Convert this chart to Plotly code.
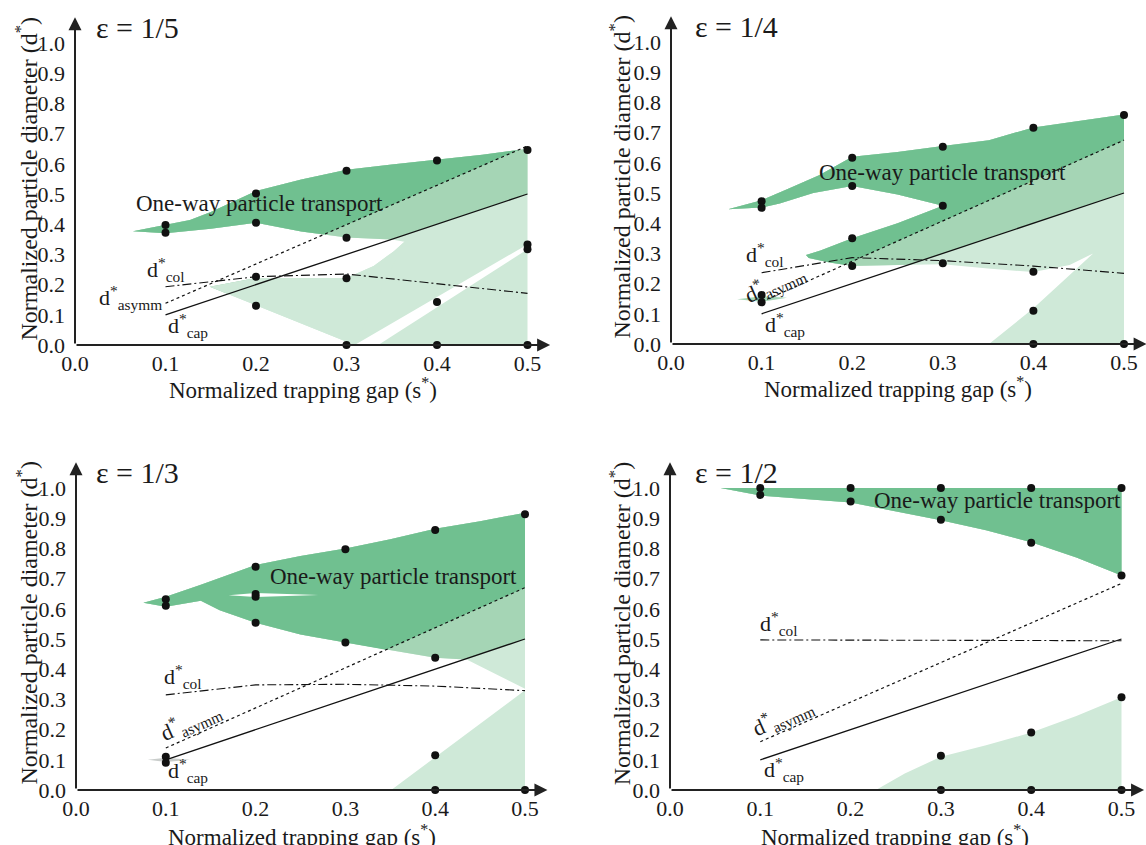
import plotly.graph_objects as go

W, H = 1146, 845
FONT = "Liberation Serif, Times New Roman, serif"
DARK, MED, LIGHT = "#70c090", "#a5d5b5", "#cfe9d8"

# ---------------- data ----------------
S_TICKS = [0.0, 0.1, 0.2, 0.3, 0.4, 0.5]
S_TICKTEXT = ["0.0", "0.1", "0.2", "0.3", "0.4", "0.5"]
D_TICKS = [0.0, 0.1, 0.2, 0.3, 0.4, 0.5, 0.6, 0.7, 0.8, 0.9, 1.0]
D_TICKTEXT = ["0.0", "0.1", "0.2", "0.3", "0.4", "0.5", "0.6", "0.7", "0.8", "0.9", "1.0"]

EPS_LABELS = ["ε = 1/5", "ε = 1/4", "ε = 1/3", "ε = 1/2"]

S_LINE = [0.1, 0.2, 0.3, 0.4, 0.5]
D_CAP = [0.1, 0.2, 0.3, 0.4, 0.5]
S_ASYMM = [0.1, 0.5]
D_ASYMM = [[0.138, 0.659], [0.140, 0.675], [0.139, 0.670], [0.160, 0.684]]
D_COL = [[0.193, 0.226, 0.235, 0.203, 0.171],
         [0.236, 0.286, 0.276, 0.258, 0.234],
         [0.315, 0.348, 0.350, 0.344, 0.329],
         [0.497, 0.497, 0.496, 0.495, 0.494]]

DOT_S = [
    [0.1, 0.1, 0.2, 0.2, 0.2, 0.2, 0.3, 0.3, 0.3, 0.3, 0.4, 0.4, 0.4, 0.5, 0.5, 0.5, 0.5],
    [0.1, 0.1, 0.1, 0.1, 0.2, 0.2, 0.2, 0.2, 0.3, 0.3, 0.3, 0.4, 0.4, 0.4, 0.4, 0.5, 0.5],
    [0.1, 0.1, 0.1, 0.1, 0.2, 0.2, 0.2, 0.2, 0.3, 0.3, 0.4, 0.4, 0.4, 0.4, 0.5, 0.5],
    [0.1, 0.1, 0.2, 0.2, 0.3, 0.3, 0.3, 0.3, 0.4, 0.4, 0.4, 0.4, 0.5, 0.5, 0.5, 0.5],
]
DOT_D = [
    [0.397, 0.372, 0.502, 0.405, 0.226, 0.130, 0.577, 0.355, 0.221, 0.0, 0.611, 0.142, 0.0, 0.646, 0.333, 0.317, 0.0],
    [0.473, 0.451, 0.162, 0.138, 0.617, 0.523, 0.350, 0.258, 0.653, 0.458, 0.267, 0.716, 0.239, 0.110, 0.0, 0.758, 0.0],
    [0.632, 0.610, 0.110, 0.090, 0.739, 0.649, 0.640, 0.554, 0.797, 0.488, 0.861, 0.438, 0.115, 0.0, 0.913, 0.0],
    [1.0, 0.977, 1.0, 0.955, 1.0, 0.895, 0.113, 0.0, 1.0, 0.819, 0.190, 0.0, 1.0, 0.710, 0.307, 0.0],
]

# green regions (outline points), coloured by band: above d*asymm dark, above d*cap medium, else light
REGION_S = [
    [[0.064, 0.1, 0.127, 0.15, 0.2, 0.25, 0.3, 0.35, 0.4, 0.45, 0.5, 0.5, 0.309, 0.149, 0.2, 0.3, 0.33, 0.352, 0.364, 0.35, 0.3, 0.25, 0.2, 0.15, 0.1],
     [0.335, 0.5, 0.5]],
    [[0.063, 0.1, 0.13, 0.164, 0.2, 0.25, 0.3, 0.351, 0.4, 0.45, 0.5, 0.5, 0.351, 0.4, 0.466, 0.44, 0.414, 0.4, 0.35, 0.3, 0.25, 0.2, 0.175, 0.152, 0.149, 0.165, 0.2, 0.25, 0.3, 0.25, 0.2, 0.157, 0.12, 0.1]],
    [[0.075, 0.1, 0.139, 0.2, 0.25, 0.3, 0.35, 0.4, 0.45, 0.5, 0.5, 0.47, 0.45, 0.435, 0.4, 0.35, 0.3, 0.25, 0.2, 0.16, 0.139, 0.1],
     [0.351, 0.4, 0.5, 0.5]],
    [[0.056, 0.5, 0.5, 0.45, 0.4, 0.35, 0.3, 0.2, 0.1],
     [0.228, 0.26, 0.3, 0.35, 0.4, 0.45, 0.5, 0.5]],
]
REGION_D = [
    [[0.377, 0.397, 0.414, 0.44, 0.51, 0.548, 0.58, 0.598, 0.614, 0.63, 0.65, 0.333, 0.0, 0.193, 0.222, 0.222, 0.262, 0.31, 0.342, 0.349, 0.356, 0.376, 0.405, 0.385, 0.37],
     [0.0, 0.0, 0.317]],
    [[0.446, 0.476, 0.515, 0.56, 0.62, 0.636, 0.656, 0.675, 0.717, 0.738, 0.76, 0.0, 0.0, 0.118, 0.30, 0.262, 0.245, 0.238, 0.25, 0.264, 0.262, 0.258, 0.27, 0.285, 0.295, 0.31, 0.35, 0.40, 0.458, 0.495, 0.523, 0.50, 0.465, 0.452]],
    [[0.62, 0.64, 0.68, 0.745, 0.775, 0.80, 0.83, 0.865, 0.89, 0.918, 0.335, 0.38, 0.41, 0.432, 0.438, 0.462, 0.488, 0.515, 0.554, 0.595, 0.627, 0.607],
     [0.0, 0.108, 0.33, 0.0]],
    [[1.0, 1.0, 0.71, 0.77, 0.82, 0.86, 0.893, 0.952, 0.975],
     [0.0, 0.055, 0.11, 0.148, 0.19, 0.245, 0.307, 0.0]],
]
# fixed-colour patches drawn over the banded regions
PATCH_S = [
    [[0.149, 0.2, 0.3, 0.33, 0.352, 0.364, 0.309]],
    [[0.073, 0.1, 0.128, 0.1]],
    [[0.17, 0.2, 0.27, 0.2], [0.08, 0.1, 0.127, 0.1]],
    [],
]
PATCH_D = [
    [[0.193, 0.222, 0.222, 0.262, 0.31, 0.342, 0.0]],
    [[0.148, 0.158, 0.153, 0.140]],
    [[0.645, 0.652, 0.646, 0.639], [0.100, 0.107, 0.100, 0.093]],
    [],
]
PATCH_C = [[LIGHT], [MED], ["white", "#c9cdcb"], []]

# label positions (s, d)
EPS_POS = [(0.0696, 1.05), (0.0728, 1.05), (0.069, 1.05), (0.074, 1.05)]
XTITLE_POS = [(0.252, -0.145), (0.250, -0.144), (0.252, -0.151), (0.249, -0.151)]
YTITLE_POS = [(-0.0536, 0.553), (-0.0567, 0.553), (-0.055, 0.553), (-0.055, 0.553)]
ONEWAY_POS = [(0.204, 0.467), (0.300, 0.567), (0.354, 0.706), (0.3625, 0.960)]
COL_POS = [(0.100, 0.250), (0.1037, 0.297), (0.119, 0.375), (0.121, 0.552)]
ASYMM_POS = [(0.0617, 0.157), (0.1137, 0.201), (0.127, 0.226), (0.125, 0.243)]
ASYMM_ANGLE = [0, -24, -24, -24]
CAP_POS = [(0.125, 0.064), (0.126, 0.066), (0.125, 0.066), (0.126, 0.069)]

# panel placement (pixels)
PANELS = [dict(x0=75, xs=905, y0=345, ys=302),
          dict(x0=671, xs=906, y0=344, ys=302),
          dict(x0=76, xs=898, y0=790, ys=302),
          dict(x0=670, xs=903, y0=790, ys=302)]


def clip_above(s, d, p, q):
    pts = list(zip(s, d))

    def f(pt):
        return pt[1] - (p[1] + (pt[0] - p[0]) * (q[1] - p[1]) / (q[0] - p[0]))
    out = []
    n = len(pts)
    for i in range(n):
        a, b = pts[i], pts[(i + 1) % n]
        fa, fb = f(a), f(b)
        if fa >= 0:
            out.append(a)
        if (fa >= 0) != (fb >= 0):
            t = fa / (fa - fb)
            out.append((a[0] + t * (b[0] - a[0]), a[1] + t * (b[1] - a[1])))
    return [o[0] for o in out], [o[1] for o in out]


fig = go.Figure()
annotations = []
layout = {}


def add_fill(s, d, color, xa, ya):
    if len(s) < 3:
        return
    fig.add_trace(go.Scatter(x=list(s) + [s[0]], y=list(d) + [d[0]], mode="lines",
                             fill="toself", fillcolor=color, line=dict(width=0, color=color),
                             hoverinfo="skip", showlegend=False, xaxis=xa, yaxis=ya))


for i, P in enumerate(PANELS):
    xa = "x" if i == 0 else f"x{i+1}"
    ya = "y" if i == 0 else f"y{i+1}"
    xname = "xaxis" if i == 0 else f"xaxis{i+1}"
    yname = "yaxis" if i == 0 else f"yaxis{i+1}"
    xmax = min(0.53, (W - P["x0"]) / P["xs"] - 0.001)
    ymax = 1.1
    layout[xname] = dict(domain=[P["x0"] / W, (P["x0"] + xmax * P["xs"]) / W], range=[0, xmax],
                         anchor=ya, tickvals=S_TICKS, ticktext=S_TICKTEXT, ticks="",
                         showgrid=False, zeroline=False, showline=False, automargin=False,
                         tickfont=dict(family=FONT, size=22, color="#1a1a1a"),
                         ticklabelstandoff=3, fixedrange=True)
    layout[yname] = dict(domain=[(H - P["y0"]) / H, (H - P["y0"] + ymax * P["ys"]) / H], range=[0, ymax],
                         anchor=xa, tickvals=D_TICKS, ticktext=D_TICKTEXT, ticks="",
                         showgrid=False, zeroline=False, showline=False, automargin=False,
                         tickfont=dict(family=FONT, size=22, color="#1a1a1a"),
                         ticklabelstandoff=9, fixedrange=True)

    asp = (S_ASYMM[0], D_ASYMM[i][0]); asq = (S_ASYMM[1], D_ASYMM[i][1])
    cp = (S_LINE[0], D_CAP[0]); cq = (S_LINE[-1], D_CAP[-1])
    for s, d in zip(REGION_S[i], REGION_D[i]):
        add_fill(s, d, LIGHT, xa, ya)
        ms, md = clip_above(s, d, cp, cq)
        add_fill(ms, md, MED, xa, ya)
        ds, dd = clip_above(s, d, asp, asq)
        add_fill(ds, dd, DARK, xa, ya)
    for s, d, c in zip(PATCH_S[i], PATCH_D[i], PATCH_C[i]):
        add_fill(s, d, c, xa, ya)

    # lines
    fig.add_trace(go.Scatter(x=S_LINE, y=D_CAP, mode="lines", line=dict(color="#111", width=1.3),
                             hoverinfo="skip", showlegend=False, xaxis=xa, yaxis=ya))
    fig.add_trace(go.Scatter(x=S_ASYMM, y=D_ASYMM[i], mode="lines", line=dict(color="#111", width=1.2, dash="dot"),
                             hoverinfo="skip", showlegend=False, xaxis=xa, yaxis=ya))
    fig.add_trace(go.Scatter(x=S_LINE, y=D_COL[i], mode="lines",
                             line=dict(color="#111", width=1.1, dash="9px,3px,2px,3px"),
                             hoverinfo="skip", showlegend=False, xaxis=xa, yaxis=ya))
    # dots
    fig.add_trace(go.Scatter(x=DOT_S[i], y=DOT_D[i], mode="markers",
                             marker=dict(color="#111", size=8), cliponaxis=False,
                             hoverinfo="skip", showlegend=False, xaxis=xa, yaxis=ya))

    # axes arrows
    annotations.append(dict(x=0.525, y=0, ax=0, ay=0, xref=xa, yref=ya, axref=xa, ayref=ya,
                            text="", showarrow=True, arrowhead=2, arrowsize=1.3, arrowwidth=2,
                            arrowcolor="#222", standoff=0, startstandoff=0))
    annotations.append(dict(x=0, y=1.085, ax=0, ay=0, xref=xa, yref=ya, axref=xa, ayref=ya,
                            text="", showarrow=True, arrowhead=2, arrowsize=1.3, arrowwidth=2,
                            arrowcolor="#222", standoff=0, startstandoff=0))

    def txt(pos, t, size, angle=0):
        px = P["x0"] + P["xs"] * pos[0]
        py = P["y0"] - P["ys"] * pos[1]
        annotations.append(dict(x=px / W, y=1 - py / H, xref="paper", yref="paper", text=t,
                                showarrow=False, textangle=angle, xanchor="center", yanchor="middle",
                                font=dict(family=FONT, size=size, color="#1a1a1a")))

    txt(EPS_POS[i], EPS_LABELS[i], 30)
    txt(XTITLE_POS[i], "Normalized trapping gap (s<sup>*</sup>)", 23)
    txt(YTITLE_POS[i], "Normalized particle diameter (d<sup>*</sup>)", 24, -90)
    txt(ONEWAY_POS[i], "One-way particle transport", 23)
    txt(COL_POS[i], "d<sup>*</sup><sub>col</sub>", 22)
    txt(ASYMM_POS[i], "d<sup>*</sup><sub>asymm</sub>", 22, ASYMM_ANGLE[i])
    txt(CAP_POS[i], "d<sup>*</sup><sub>cap</sub>", 22)

fig.update_layout(width=W, height=H, margin=dict(l=0, r=0, t=0, b=0, autoexpand=False),
                  plot_bgcolor="white", paper_bgcolor="white",
                  annotations=annotations, **layout)
fig.write_html("out.html", config={"displayModeBar": False},
               post_script="document.body.style.margin='0px';")
